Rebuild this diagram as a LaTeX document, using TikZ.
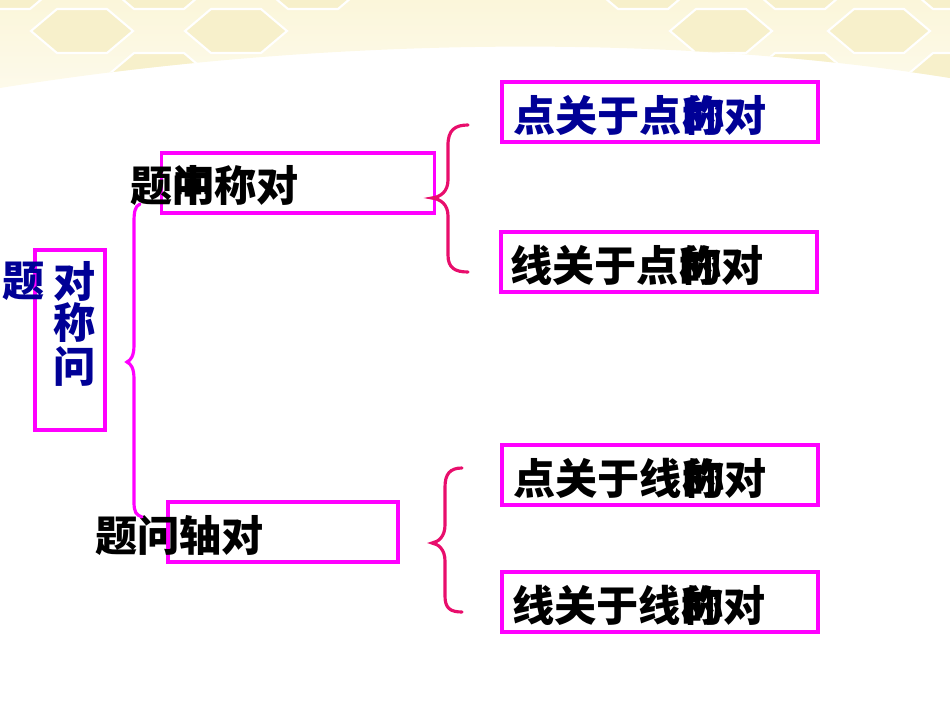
\documentclass[tikz,border=0pt]{standalone}
\usepackage{fontspec}
\newfontfamily\cjk{Noto Sans CJK SC}[UprightFont=* Black]
\usetikzlibrary{positioning,calc}
\definecolor{boxpink}{RGB}{255,0,255}
\definecolor{bracered}{RGB}{232,14,108}
\definecolor{navytext}{RGB}{0,0,150}
\definecolor{bandyellow}{RGB}{251,246,218}
\definecolor{hexyellow}{RGB}{247,240,203}

\begin{document}
\begin{tikzpicture}[
  x=0.02cm, y=-0.02cm,
  framebox/.style={draw=boxpink, line width=2.1pt, minimum height=1.2cm, inner sep=0pt},
  cjklabel/.style={font=\cjk\fontsize{24}{24}\selectfont, inner sep=0pt, anchor=west},
  bracepath/.style={line width=1.8pt, line cap=round},
  hexcell/.style={fill=hexyellow, draw=white, line width=1.2pt},
]
  \useasboundingbox (0,0) rectangle (950,713);

  % Yellow band with honeycomb
  \begin{scope}
    \clip (0,0) -- (950,0) -- (950,78) .. controls (650,30) and (300,40) .. (0,88) -- cycle;
    \shade[top color=bandyellow, bottom color=bandyellow!50] (0,0) rectangle (950,100);
    \foreach \cx/\cy in {5/-13, 82/31, 159/-13, 159/75, 236/31, 313/-13,
                         643/-13, 721/31, 800/-13, 800/75, 879/31, 958/-13, 958/75}
      \draw[hexcell] (\cx-51,\cy) -- (\cx-25,\cy-22) -- (\cx+25,\cy-22) -- (\cx+51,\cy)
                     -- (\cx+25,\cy+22) -- (\cx-25,\cy+22) -- cycle;
  \end{scope}

  % Frames
  \node[framebox, minimum width=1.4cm, minimum height=3.6cm] (topic) at (70,340) {};
  \node[framebox, minimum width=5.46cm] (central) at (298,183) {};
  \node[framebox, minimum width=4.6cm] (axial) at (283,532) {};
  \node[framebox, minimum width=6.32cm] (ptpt) at (660,112) {};
  \node[framebox, minimum width=6.32cm] (lnpt) at (659,262) {};
  \node[framebox, minimum width=6.32cm] (ptln) at (660,475) {};
  \node[framebox, minimum width=6.32cm] (lnln) at (660,602) {};

  % Labels
  \node[cjklabel, anchor=center, text=navytext] (topicmark) at (24,281) {题};
  \node[cjklabel, anchor=center, text=navytext] (topicA) at (75,281) {对};
  \node[cjklabel, anchor=center, text=navytext] (topicB) at (75,323) {称};
  \node[cjklabel, anchor=center, text=navytext] (topicC) at (75,366) {问};
  \node[cjklabel] (centraltext) at (130,185) {题\rlap{问}中称对};
  \node[cjklabel] (axialtext) at (95,535) {题问轴对};
  \node[cjklabel, text=navytext] (ptpttext) at (513,115) {点关于点\rlap{的}称对};
  \node[cjklabel] (lnpttext) at (510,265) {线关于点\rlap{的}称对};
  \node[cjklabel] (ptlntext) at (513,478) {点关于线\rlap{的}称对};
  \node[cjklabel] (lnlntext) at (512,605) {线关于线\rlap{的}称对};

  % Braces
  \coordinate (topictip) at (127,362);
  \coordinate (centraltip) at (432,198);
  \coordinate (axialtip) at (432,543);
  \draw[bracepath, draw=boxpink] (140,204) .. controls (135,206) and (134,212) .. (134,222)
    -- (134,345) .. controls (134,356) and (131,360) .. (topictip)
    .. controls (131,364) and (134,368) .. (134,379)
    -- (134,502) .. controls (134,512) and (136,515) .. (142,517);
  \draw[bracepath, draw=bracered] (468,125) .. controls (455,125) and (448,130) .. (448,145)
    -- (448,180) .. controls (448,192) and (440,197) .. (centraltip)
    .. controls (440,199) and (448,204) .. (448,216)
    -- (448,255) .. controls (448,268) and (455,272) .. (468,272);
  \draw[bracepath, draw=bracered] (462,468) .. controls (450,468) and (445,474) .. (445,487)
    -- (445,525) .. controls (445,537) and (438,542) .. (axialtip)
    .. controls (438,544) and (445,549) .. (445,561)
    -- (445,596) .. controls (445,608) and (450,612) .. (462,612);
\end{tikzpicture}
\end{document}
